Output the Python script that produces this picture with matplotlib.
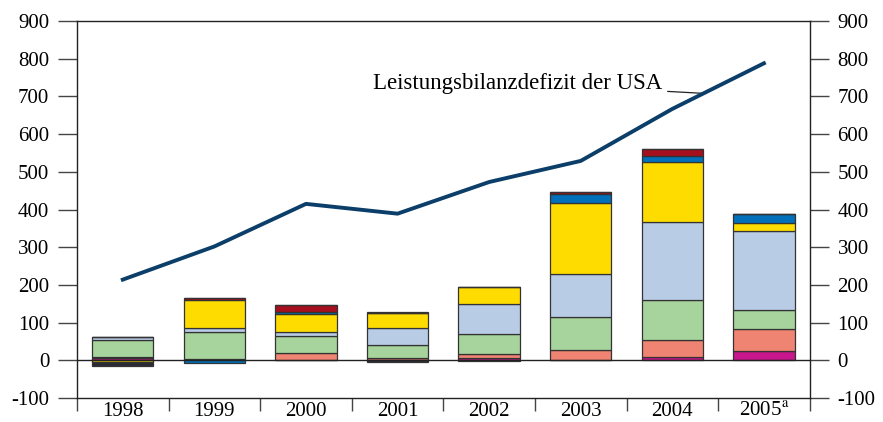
import numpy as np
import matplotlib
matplotlib.use("Agg")
import matplotlib.pyplot as plt

plt.rcParams['font.family'] = ['Liberation Serif', 'DejaVu Serif']
plt.rcParams['mathtext.fontset'] = 'stix'
plt.rcParams['axes.unicode_minus'] = False

# Daten (Mrd US-Dollar)
jahre = ["1998", "1999", "2000", "2001", "2002", "2003", "2004", "2005$^{\\mathrm{a}}$"]
defizit_usa = [214, 302, 415, 389, 473, 529, 667, 788]

magenta = [6, 4, 2, 0, 5, 2, 9, 24]
lachs = [2, 0, 17, 7, 11, 26, 44, 60]
gruen = [47, 72, 45, 33, 55, 86, 106, 50]
hellblau = [6, 9, 11, 46, 77, 116, 208, 209]
gelb = [-4, 75, 49, 39, 46, 188, 160, 21]
blau = [0, -6, 4, 0, 0, 23, 14, 25]
dunkelrot = [0, 5, 18, 4, 0, 5, 20, 0]
dunkel = [-10, 0, 0, -4, -3, 0, 0, 0]

serien = [magenta, lachs, gruen, hellblau, gelb, blau, dunkelrot, dunkel]
farben = ['#C8168C', '#F08472', '#A6D49C', '#B9CCE6', '#FFDC00', '#0070BA', '#A50F1E', '#2A2A35']

fig, ax = plt.subplots(figsize=(8.83, 4.22), dpi=100)
fig.subplots_adjust(left=0.0872, right=0.917, top=0.950, bottom=0.057)

x = np.arange(len(jahre))
pos_unten = np.zeros(len(jahre))
neg_unten = np.zeros(len(jahre))
for werte, farbe in zip(serien, farben):
    werte = np.array(werte, dtype=float)
    unten = np.where(werte >= 0, pos_unten, neg_unten)
    ax.bar(x, werte, width=0.67, bottom=unten, color=farbe,
           edgecolor='#333333', linewidth=0.9, zorder=2)
    pos_unten += np.where(werte > 0, werte, 0)
    neg_unten += np.where(werte < 0, werte, 0)

ax.axhline(0, color='#222222', linewidth=1.0, zorder=3)

ax.plot(x, defizit_usa, color='#0B3F69', linewidth=2.8, zorder=4)

ax.annotate("Leistungsbilanzdefizit der USA", xy=(6.36, 708), xytext=(2.73, 735),
            fontsize=16.5, va='center', ha='left',
            arrowprops=dict(arrowstyle='-', color='#222222', lw=0.9,
                            shrinkA=2, shrinkB=0))

ax.set_xlim(-0.5, 7.5)
ax.set_ylim(-100, 900)
ax.set_yticks(np.arange(-100, 901, 100))
ax.tick_params(axis='y', direction='out', length=14, width=1, color='#444444',
               left=True, right=True, labelleft=True, labelright=True,
               labelsize=15, pad=6)

ax.set_xticks(x)
ax.set_xticklabels(jahre, fontsize=15)
ax.set_xticks(np.arange(-0.5, 8, 1), minor=True)
ax.tick_params(axis='x', which='major', length=0, pad=3)
ax.tick_params(axis='x', which='minor', direction='out', length=9, width=1, color='#444444')

for s in ax.spines.values():
    s.set_color('#222222')
    s.set_linewidth(1.0)

fig.savefig("out.png", dpi=100)
